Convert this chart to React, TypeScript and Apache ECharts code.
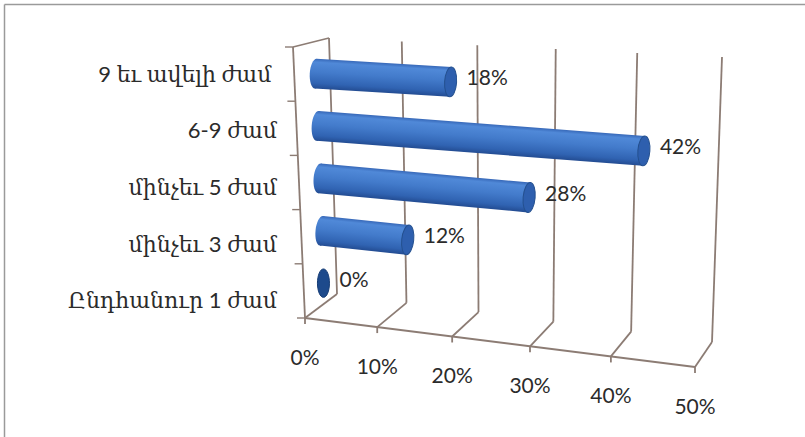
import React, { useEffect, useRef } from "react";
import * as echarts from "echarts";

// Survey categories (bottom to top) and their shares, %
const CATEGORIES = [
  "Ընդհանուր 1 ժամ",
  "մինչեւ 3 ժամ",
  "մինչեւ 5 ժամ",
  "6-9 ժամ",
  "9 եւ ավելի ժամ ",
];
const SHARES = [0, 12, 28, 42, 18];

// Value-axis ticks
const TICK_VALUES = [0, 10, 20, 30, 40, 50];
const TICK_LABELS = ["0%", "10%", "20%", "30%", "40%", "50%"];

// Screen corners of the 3D plot box: front/back, bottom/top, at axis start (0) and end (1)
const BOX = {
  fb0: [305, 318],
  fb1: [695, 367],
  bb0: [337, 294],
  bb1: [712, 342],
  bt0: [329, 38],
  bt1: [722, 57],
  ft0: [293, 47],
  ft1: [706, 72],
};
const DEPTH_RATIO = 1.1; // perspective foreshortening along the value axis
const BAR_DEPTH = 0.6; // where the cylinders sit between front (0) and back (1)
const BAR_DROP = 0.022; // cylinders rest slightly below the band centre
const BAR_HALF = 0.285; // cylinder radius as a share of the category band
const CAP_RX = 6;

const WALL = "#8c7c74";
const TEXT = "#2b2b2b";
const NUM_FONT = "Lato, 'DejaVu Sans', sans-serif";
const CAT_FONT = "Lato, 'DejaVu Serif', serif";

type Pt = [number, number];
const lerp = (a: number[], b: number[], k: number): Pt => [
  a[0] + (b[0] - a[0]) * k,
  a[1] + (b[1] - a[1]) * k,
];

// t: position along value axis (0..1), h: height (0..1), d: depth (0 front .. 1 back)
function project(t: number, h: number, d: number): Pt {
  const u = t / (t + (1 - t) * DEPTH_RATIO);
  const fb = lerp(BOX.fb0, BOX.fb1, u);
  const bb = lerp(BOX.bb0, BOX.bb1, u);
  const bt = lerp(BOX.bt0, BOX.bt1, u);
  const ft = lerp(BOX.ft0, BOX.ft1, u);
  const bottom = lerp(fb, bb, d);
  const top = lerp(ft, bt, d);
  return lerp(bottom, top, h);
}

const seg = (a: Pt, b: Pt, w = 1.8) => ({
  type: "line",
  silent: true,
  shape: { x1: a[0], y1: a[1], x2: b[0], y2: b[1] },
  style: { stroke: WALL, lineWidth: w },
});

export default function App() {
  const ref = useRef<HTMLDivElement>(null);

  useEffect(() => {
    if (!ref.current) return;
    const chart = echarts.init(ref.current, undefined, { renderer: "svg" });

    const bodyFill = () =>
      new echarts.graphic.LinearGradient(0, 0, 0, 1, [
        { offset: 0, color: "#3768b8" },
        { offset: 0.12, color: "#5089d8" },
        { offset: 0.45, color: "#437bcb" },
        { offset: 0.82, color: "#3063b2" },
        { offset: 1, color: "#234c92" },
      ]);

    const option: any = {
      animation: false,
      backgroundColor: "#ffffff",
      grid: { left: 305, right: 110, top: 45, bottom: 109, containLabel: false },
      xAxis: {
        type: "value",
        min: 0,
        max: 50,
        interval: 10,
        show: false,
      },
      yAxis: {
        type: "category",
        data: CATEGORIES,
        axisLine: { show: false },
        axisTick: { show: false },
        splitLine: { show: false },
        axisLabel: {
          margin: 28,
          fontSize: 22,
          fontFamily: CAT_FONT,
          color: TEXT,
        },
      },
      graphic: [
        {
          type: "line",
          shape: { x1: 4.5, y1: 4.5, x2: 805, y2: 4.5 },
          style: { stroke: "#9a9a9a", lineWidth: 1.5 },
          silent: true,
        },
        {
          type: "line",
          shape: { x1: 4.5, y1: 4.5, x2: 4.5, y2: 437 },
          style: { stroke: "#9a9a9a", lineWidth: 1.5 },
          silent: true,
        },
      ],
      series: [
        {
          // walls, floor, ticks and value-axis labels
          type: "custom",
          coordinateSystem: "cartesian2d",
          z: 1,
          silent: true,
          encode: { x: 0, y: 1 },
          data: TICK_VALUES.map((v) => [v, 0]),
          renderItem: (params: any, api: any) => {
            const cs = params.coordSys;
            const p = api.coord([api.value(0), 0]);
            const t = (p[0] - cs.x) / cs.width;
            const fb = project(t, 0, 0);
            const bb = project(t, 0, 1);
            const bt = project(t, 1, 1);
            const children: any[] = [
              seg(bb, bt),
              seg(fb, bb),
              seg(fb, [fb[0], fb[1] + 6]),
              {
                type: "text",
                x: fb[0],
                y: fb[1] + 38,
                style: {
                  text: TICK_LABELS[params.dataIndex],
                  align: "center",
                  verticalAlign: "middle",
                  fontSize: 21,
                  fontFamily: NUM_FONT,
                  fill: TEXT,
                },
              },
            ];
            if (params.dataIndex === 0) {
              const n = CATEGORIES.length;
              // front floor edge
              children.push(seg(project(0, 0, 0), project(1, 0, 0)));
              // side wall front edge and top edge
              children.push(seg(project(0, 0, 0), project(0, 1, 0)));
              children.push(seg(project(0, 1, 0), project(0, 1, 1)));
              // category ticks on the side wall
              for (let k = 0; k <= n; k++) {
                const a = project(0, k / n, 0);
                children.push(seg(a, [a[0] - 8, a[1]], 1.4));
              }
            }
            return { type: "group", children };
          },
        },
        {
          // cylinders
          type: "custom",
          coordinateSystem: "cartesian2d",
          z: 3,
          encode: { x: 0, y: 1 },
          data: SHARES.map((v, i) => [v, i]),
          renderItem: (params: any, api: any) => {
            const cs = params.coordSys;
            const v = api.value(0);
            const ci = api.value(1);
            const pEnd = api.coord([v, ci]);
            const pStart = api.coord([0, ci]);
            const band = api.size([0, 1])[1] / cs.height;
            const t0 = (pStart[0] - cs.x) / cs.width;
            const t1 = (pEnd[0] - cs.x) / cs.width;
            const h = (cs.y + cs.height - pEnd[1]) / cs.height - BAR_DROP;
            const L = project(t0, h, BAR_DEPTH);
            const R = project(t1, h, BAR_DEPTH);
            const up = project(t0, h + band * BAR_HALF, BAR_DEPTH);
            const dn = project(t0, h - band * BAR_HALF, BAR_DEPTH);
            const r = Math.hypot(up[0] - dn[0], up[1] - dn[1]) / 2;
            const len = Math.hypot(R[0] - L[0], R[1] - L[1]);
            const rot = -Math.atan2(R[1] - L[1], R[0] - L[0]);

            const parts: any[] = [];
            if (len > 0.5) {
              parts.push(
                {
                  type: "ellipse",
                  shape: { cx: 0, cy: 0, rx: CAP_RX, ry: r },
                  style: { fill: bodyFill() },
                },
                {
                  type: "rect",
                  shape: { x: 0, y: -r, width: len, height: 2 * r },
                  style: { fill: bodyFill() },
                },
                {
                  type: "ellipse",
                  shape: { cx: len, cy: 0, rx: CAP_RX, ry: r },
                  style: { fill: "#2e5fae", stroke: "#24508f", lineWidth: 1 },
                }
              );
            } else {
              parts.push({
                type: "ellipse",
                shape: { cx: 0, cy: 0, rx: CAP_RX, ry: r * 0.95 },
                style: { fill: "#1d4a8c", stroke: "#173d75", lineWidth: 1 },
              });
            }

            return {
              type: "group",
              children: [
                { type: "group", x: L[0], y: L[1], rotation: rot, children: parts },
                {
                  type: "text",
                  x: R[0] + CAP_RX + 10,
                  y: R[1] - 5,
                  style: {
                    text: `${v}%`,
                    align: "left",
                    verticalAlign: "middle",
                    fontSize: 21,
                    fontFamily: NUM_FONT,
                    fill: TEXT,
                  },
                },
              ],
            };
          },
        },
      ],
    };

    chart.setOption(option);
    return () => chart.dispose();
  }, []);

  return (
    <div
      ref={ref}
      style={{ position: "absolute", left: 0, top: 0, width: 805, height: 437 }}
    />
  );
}
